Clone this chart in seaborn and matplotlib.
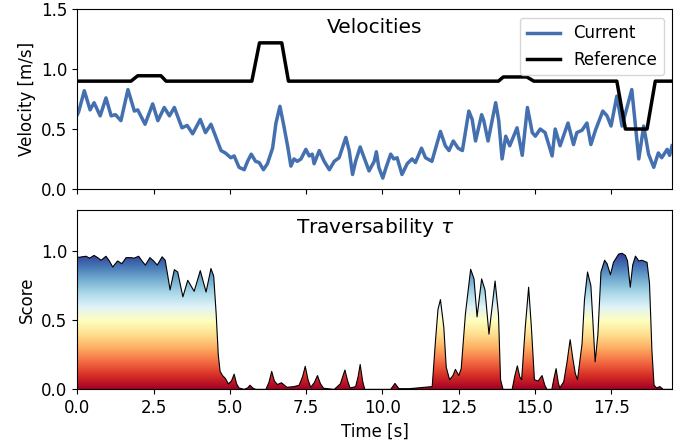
import numpy as np
import pandas as pd
import matplotlib
matplotlib.use('Agg')
import matplotlib.pyplot as plt
import seaborn as sns

# ---- data ----
vel_time = [0.00, 0.04, 0.23, 0.42, 0.55, 0.75, 0.94, 1.11, 1.25, 1.43, 1.66, 1.87, 1.98,
            2.22, 2.47, 2.64, 2.85, 3.02, 3.18, 3.43, 3.60, 3.78, 4.03, 4.20, 4.38,
            4.71, 4.85, 5.03, 5.14, 5.30, 5.47, 5.58, 5.70, 5.84, 5.96, 6.10, 6.23,
            6.40, 6.51, 6.64, 6.77, 6.89, 7.00, 7.10, 7.21, 7.33, 7.49, 7.60, 7.70,
            7.76, 7.93, 8.09, 8.26, 8.42, 8.58, 8.80, 8.91, 9.02, 9.12, 9.27, 9.40,
            9.56, 9.73, 9.80, 9.88, 10.01, 10.12, 10.27, 10.37, 10.48, 10.64, 10.81,
            10.97, 11.08, 11.28, 11.41, 11.62, 11.90, 12.06, 12.18, 12.32, 12.48,
            12.62, 12.83, 12.94, 13.05, 13.25, 13.32, 13.46, 13.71, 13.81, 13.92,
            14.04, 14.17, 14.41, 14.58, 14.75, 14.91, 15.01, 15.17, 15.33, 15.56,
            15.66, 15.82, 16.08, 16.26, 16.37, 16.54, 16.70, 16.83, 16.98, 17.22,
            17.36, 17.49, 17.68, 17.85, 18.17, 18.40, 18.56, 18.72, 18.89, 19.04,
            19.15, 19.33, 19.41, 19.49]
vel_current = [0.62, 0.64, 0.82, 0.66, 0.72, 0.61, 0.76, 0.61, 0.62, 0.57, 0.83, 0.65, 0.66,
               0.54, 0.71, 0.57, 0.68, 0.61, 0.68, 0.51, 0.53, 0.46, 0.58, 0.47, 0.54,
               0.32, 0.30, 0.26, 0.275, 0.18, 0.16, 0.23, 0.29, 0.23, 0.22, 0.16, 0.21,
               0.34, 0.55, 0.69, 0.525, 0.36, 0.19, 0.25, 0.23, 0.25, 0.33, 0.275, 0.29,
               0.21, 0.32, 0.23, 0.16, 0.23, 0.26, 0.43, 0.32, 0.12, 0.23, 0.35, 0.26,
               0.15, 0.23, 0.31, 0.18, 0.09, 0.18, 0.29, 0.25, 0.26, 0.12, 0.21,
               0.25, 0.22, 0.34, 0.26, 0.23, 0.48, 0.36, 0.32, 0.40, 0.34,
               0.32, 0.65, 0.58, 0.40, 0.62, 0.57, 0.40, 0.72, 0.57, 0.25,
               0.44, 0.36, 0.51, 0.28, 0.68, 0.47, 0.44, 0.50, 0.47, 0.275,
               0.50, 0.36, 0.55, 0.37, 0.47, 0.49, 0.55, 0.37, 0.49, 0.65,
               0.61, 0.525, 0.775, 0.525, 0.83, 0.25, 0.525, 0.29, 0.18, 0.30,
               0.26, 0.33, 0.28, 0.36]

ref_time = [0.00, 1.76, 1.98, 2.74, 2.91, 5.72, 5.97, 6.70, 6.92, 13.80, 13.96, 14.73,
            14.96, 17.68, 17.96, 18.67, 18.94, 19.50]
ref_velocity = [0.90, 0.90, 0.945, 0.945, 0.90, 0.90, 1.22, 1.22, 0.90, 0.90, 0.935, 0.935,
                0.90, 0.90, 0.50, 0.50, 0.90, 0.90]

trav_time = [0.00, 0.15, 0.29, 0.40, 0.55, 0.66, 0.78, 0.94, 1.05, 1.16, 1.32, 1.46, 1.60,
             1.76, 1.86, 2.01, 2.12, 2.23, 2.38, 2.50, 2.62, 2.78, 2.88, 2.96, 3.04,
             3.18, 3.29, 3.46, 3.62, 3.83, 4.03, 4.22, 4.38, 4.47, 4.55, 4.62, 4.68,
             4.76, 4.85, 4.95, 5.05, 5.14, 5.22, 5.30, 5.47, 5.58, 5.66, 5.75, 5.85,
             6.18, 6.28, 6.37, 6.46, 6.56, 6.69, 6.87, 7.10, 7.27, 7.38, 7.47, 7.56,
             7.65, 7.77, 7.87, 7.97, 8.07, 8.42, 8.62, 8.77, 8.86, 8.94, 9.12, 9.20,
             9.27, 9.35, 9.42, 10.27, 10.41, 10.54, 10.87, 11.63, 11.74, 11.82, 11.90,
             12.01, 12.09, 12.20, 12.31, 12.39, 12.50, 12.58, 12.72, 12.89, 13.00,
             13.10, 13.25, 13.36, 13.49, 13.69, 13.80, 13.87, 13.95, 14.25, 14.34,
             14.42, 14.50, 14.56, 14.68, 14.79, 14.88, 14.98, 15.10, 15.23, 15.32,
             15.39, 15.55, 15.62, 15.69, 15.76, 15.81, 15.94, 16.05, 16.15, 16.24,
             16.32, 16.39, 16.54, 16.62, 16.72, 16.83, 16.97, 17.06, 17.16, 17.28,
             17.36, 17.47, 17.57, 17.74, 17.85, 17.96, 18.03, 18.12, 18.20, 18.29,
             18.40, 18.50, 18.67, 18.75, 18.83, 18.90, 18.98, 19.09, 19.20, 19.50]
trav_score = [0.955, 0.96, 0.964, 0.95, 0.97, 0.955, 0.935, 0.964, 0.93, 0.886, 0.93, 0.91, 0.954,
              0.954, 0.95, 0.964, 0.93, 0.90, 0.954, 0.93, 0.90, 0.96, 0.935, 0.83, 0.72,
              0.867, 0.85, 0.67, 0.79, 0.71, 0.86, 0.705, 0.875, 0.82, 0.55, 0.25, 0.13,
              0.10, 0.08, 0.04, 0.06, 0.11, 0.04, 0.01, 0.0, 0.01, 0.03, 0.01, 0.0,
              0.0, 0.05, 0.13, 0.06, 0.035, 0.048, 0.015, 0.02, 0.03, 0.09, 0.167, 0.07,
              0.015, 0.05, 0.10, 0.04, 0.008, 0.0, 0.04, 0.14, 0.06, 0.01, 0.02, 0.09,
              0.18, 0.06, 0.0, 0.0, 0.043, 0.005, 0.005, 0.02, 0.36, 0.58, 0.65,
              0.45, 0.16, 0.07, 0.10, 0.145, 0.10, 0.15, 0.55, 0.87, 0.80,
              0.525, 0.80, 0.72, 0.40, 0.785, 0.55, 0.07, 0.0, 0.0, 0.10,
              0.17, 0.09, 0.07, 0.45, 0.74, 0.45, 0.07, 0.06, 0.10, 0.03,
              0.0, 0.0, 0.08, 0.15, 0.05, 0.01, 0.055, 0.20, 0.36, 0.22,
              0.115, 0.07, 0.33, 0.65, 0.85, 0.75, 0.20, 0.40, 0.85, 0.935,
              0.91, 0.83, 0.92, 0.98, 0.985, 0.97, 0.93, 0.74, 0.90, 0.965,
              0.93, 0.935, 0.92, 0.77, 0.28, 0.03, 0.01, 0.02, 0.0, 0.0]

df_vel = pd.DataFrame({'t': vel_time, 'v': vel_current})
df_ref = pd.DataFrame({'t': ref_time, 'v': ref_velocity})
df_trav = pd.DataFrame({'t': trav_time, 's': trav_score})

plt.rcParams['font.family'] = ['DejaVu Sans']
plt.rcParams['font.size'] = 12

fig, (ax1, ax2) = plt.subplots(2, 1, figsize=(6.84, 4.45), dpi=100, sharex=True)
fig.subplots_adjust(left=0.113, right=0.983, top=0.979, bottom=0.125, hspace=0.117)

# ---- velocities ----
sns.lineplot(data=df_vel, x='t', y='v', ax=ax1, color='#4470b0', lw=2.5, label='Current')
sns.lineplot(data=df_ref, x='t', y='v', ax=ax1, color='black', lw=2.5, label='Reference')
ax1.set_ylim(0, 1.5)
ax1.set_yticks([0.0, 0.5, 1.0, 1.5])
ax1.set_ylabel('Velocity [m/s]')
ax1.set_xlabel('')
ax1.text(0.5, 0.90, 'Velocities', transform=ax1.transAxes, ha='center', va='center', fontsize=14.5)
ax1.legend(loc='upper right', fontsize=12)

# ---- traversability with gradient fill ----
xmax = 19.5
poly = ax2.fill_between(df_trav['t'], 0, df_trav['s'], facecolor='none', edgecolor='none')
grad = np.linspace(0, 1, 256).reshape(-1, 1)
im = ax2.imshow(grad, cmap='RdYlBu', aspect='auto', origin='lower',
                extent=[0, xmax, 0, max(trav_score)], zorder=1)
im.set_clip_path(poly.get_paths()[0], transform=ax2.transData)
sns.lineplot(data=df_trav, x='t', y='s', ax=ax2, color='black', lw=0.8, zorder=2)
ax2.set_xlim(0, xmax)
ax2.set_ylim(0, 1.3)
ax2.set_yticks([0.0, 0.5, 1.0])
ax2.set_xticks(np.arange(0, 18, 2.5))
ax2.set_ylabel('Score')
ax2.set_xlabel('Time [s]')
ax2.text(0.5, 0.90, r'Traversability $\tau$', transform=ax2.transAxes, ha='center', va='center', fontsize=14.5)

fig.align_ylabels([ax1, ax2])
fig.savefig('out.png', dpi=100)
